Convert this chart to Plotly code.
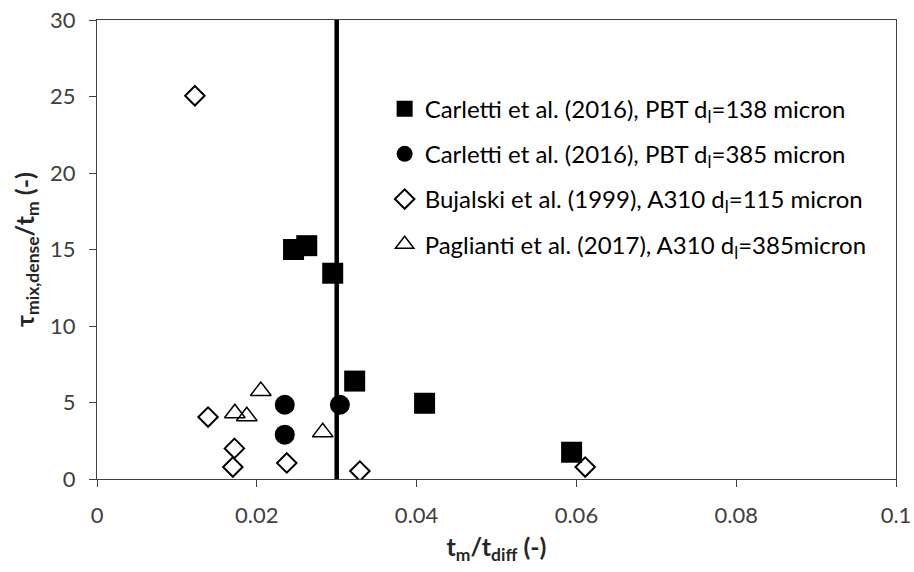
import plotly.graph_objects as go

# Data
carletti138_x = [0.0246, 0.02625, 0.0295, 0.03225, 0.0410, 0.0594]
carletti138_y = [15.0, 15.25, 13.45, 6.4, 4.95, 1.75]

carletti385_x = [0.0235, 0.0235, 0.0304]
carletti385_y = [4.85, 2.9, 4.85]

bujalski_x = [0.01225, 0.0139, 0.0172, 0.0170, 0.02375, 0.0329, 0.0611]
bujalski_y = [25.05, 4.05, 2.0, 0.78, 1.05, 0.52, 0.78]

paglianti_x = [0.0205, 0.01725, 0.01875, 0.02825]
paglianti_y = [5.75, 4.3, 4.1, 3.05]

limit_x = [0.03, 0.03]
limit_y = [0, 30]

x_ticks = [0, 0.02, 0.04, 0.06, 0.08, 0.1]
x_ticklabels = ["0", "0.02", "0.04", "0.06", "0.08", "0.1"]
y_ticks = [0, 5, 10, 15, 20, 25, 30]

names = [
    "Carletti et al. (2016), PBT d<sub>l</sub>=138 micron",
    "Carletti et al. (2016), PBT d<sub>l</sub>=385 micron",
    "Bujalski et al. (1999), A310 d<sub>l</sub>=115 micron",
    "Paglianti et al. (2017), A310 d<sub>l</sub>=385micron",
]

FONT = "Lato, 'Open Sans', sans-serif"

fig = go.Figure()
fig.add_trace(go.Scatter(x=limit_x, y=limit_y, mode="lines",
                         line=dict(color="black", width=4.5), showlegend=False,
                         hoverinfo="skip"))
fig.add_trace(go.Scatter(x=carletti138_x, y=carletti138_y, mode="markers", name=names[0],
                         legendgroup="a",
                         marker=dict(symbol="square", size=21, color="black")))
fig.add_trace(go.Scatter(x=carletti385_x, y=carletti385_y, mode="markers", name=names[1],
                         legendgroup="b",
                         marker=dict(symbol="circle", size=20, color="black")))
fig.add_trace(go.Scatter(x=bujalski_x, y=bujalski_y, mode="markers", name=names[2],
                         legendgroup="c",
                         marker=dict(symbol="diamond-open", size=15, color="black",
                                     line=dict(width=2, color="black"))))
fig.add_trace(go.Scatter(x=paglianti_x, y=paglianti_y, mode="markers", name=names[3],
                         legendgroup="d",
                         marker=dict(symbol="triangle-up-open", size=18, color="black",
                                     line=dict(width=1.5, color="black"))))

axis_common = dict(showline=True, linecolor="#404040", linewidth=1.3, mirror=True,
                   showgrid=False, zeroline=False, ticks="outside", ticklen=7,
                   tickcolor="#404040", tickwidth=1.3, automargin=False,
                   ticklabelstandoff=9,
                   tickfont=dict(family=FONT, size=22, color="#404040"))

fig.update_layout(
    width=914, height=572,
    margin=dict(l=97, r=18, t=20, b=93),
    plot_bgcolor="white", paper_bgcolor="white",
    font=dict(family=FONT, color="black"),
    xaxis=dict(range=[0, 0.1], tickvals=x_ticks, ticktext=x_ticklabels,
               title=dict(text="<b>t<sub>m</sub>/t<sub>diff</sub> (-)</b>",
                          font=dict(family=FONT, size=25, color="#262626"), standoff=11),
               **axis_common),
    yaxis=dict(range=[0, 30], tickvals=y_ticks,
               title=dict(text="<b>τ<sub>mix,dense</sub>/t<sub>m</sub> (-)</b>",
                          font=dict(family=FONT, size=25, color="#262626"), standoff=8),
               **axis_common),
    legend=dict(x=0.36, y=0.855, xanchor="left", yanchor="top",
                bgcolor="rgba(0,0,0,0)", tracegroupgap=11,
                font=dict(family=FONT, size=24, color="black")),
)

fig.write_html("out.html")
